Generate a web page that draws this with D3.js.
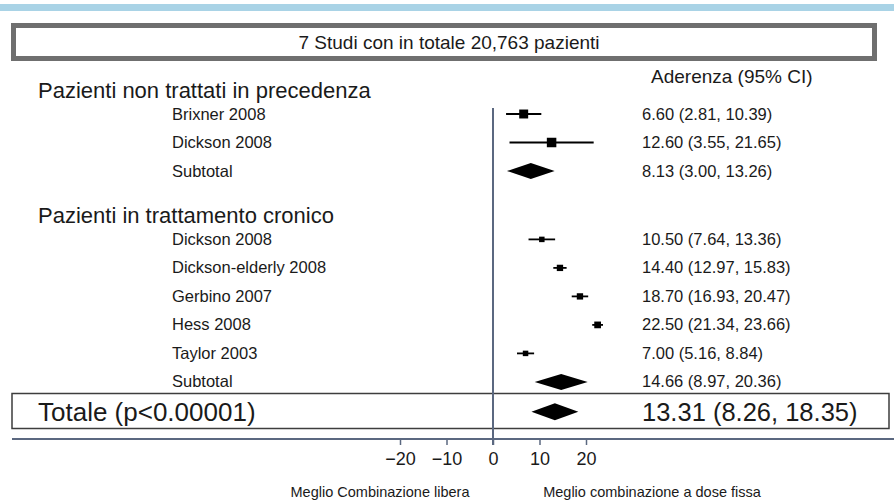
<!DOCTYPE html>
<html>
<head>
<meta charset="utf-8">
<script src="https://cdn.jsdelivr.net/npm/d3@7"></script>
<style>
  body { margin:0; background:#fff; }
  svg { display:block; font-family:"Liberation Sans", Arial, sans-serif; }
</style>
</head>
<body>
<svg id="chart" width="894" height="503"></svg>
<script>
// data
var headerText = "7 Studi con in totale 20,763 pazienti";
var columnTitle = "Aderenza (95% CI)";
var groupTitles = ["Pazienti non trattati in precedenza", "Pazienti in trattamento cronico"];
var studyNames = [["Brixner 2008", "Dickson 2008"],
                  ["Dickson 2008", "Dickson-elderly 2008", "Gerbino 2007", "Hess 2008", "Taylor 2003"]];
var studyEst = [[6.60, 12.60], [10.50, 14.40, 18.70, 22.50, 7.00]];
var studyLo  = [[2.81, 3.55],  [7.64, 12.97, 16.93, 21.34, 5.16]];
var studyHi  = [[10.39, 21.65],[13.36, 15.83, 20.47, 23.66, 8.84]];
var studyWeight = [[16, 18], [6, 8, 8, 9, 6]];
var subEst = [8.13, 14.66];
var subLo  = [3.00, 8.97];
var subHi  = [13.26, 20.36];
var totalLabel = "Totale (p<0.00001)";
var totalEst = 13.31, totalLo = 8.26, totalHi = 18.35;
var xTicks = [-20, -10, 0, 10, 20];
var sideLabels = ["Meglio Combinazione libera", "Meglio combinazione a dose fissa"];

var svg = d3.select('#chart');
var ink = '#1a1a1a', slate = '#5b6880';

var x = d3.scaleLinear().domain([0, 20]).range([493, 586]);
var y = d3.scaleLinear().domain([0, 1]).range([114, 142.5]);
var boxSize = d3.scaleSqrt().domain([0, 18]).range([0, 9.5]);

function fmt(e, l, h){ return e.toFixed(2) + ' (' + l.toFixed(2) + ', ' + h.toFixed(2) + ')'; }

// build the rows (slot = row position)
var rows = [];
var slot = 0;
groupTitles.forEach(function(t, g){
  rows.push({kind:'title', text:t, slot: slot - 0.85});
  studyNames[g].forEach(function(n, i){
    rows.push({kind:'study', text:n, slot:slot, est:studyEst[g][i], lo:studyLo[g][i], hi:studyHi[g][i], w:studyWeight[g][i]});
    slot += 1;
  })
  rows.push({kind:'sub', text:'Subtotal', slot:slot, est:subEst[g], lo:subLo[g], hi:subHi[g]});
  slot += 2.4;
})
var totalSlot = slot - 2.4 + 1.05;

// top band
svg.append('rect').attr('x',0).attr('y',4).attr('width',894).attr('height',7).attr('fill','#a9d3e6');

// header box
svg.append('rect').attr('x',13.5).attr('y',25.5).attr('width',861).attr('height',33)
  .attr('fill','#fff').attr('stroke','#6f6f6f').attr('stroke-width',5);
svg.append('text').attr('x',449).attr('y',49).attr('text-anchor','middle')
  .attr('font-size',19).attr('fill',ink).text(headerText);

svg.append('text').attr('x',651).attr('y',83).attr('font-size',19).attr('fill',ink).text(columnTitle);

// totale box
svg.append('rect').attr('x',12).attr('y',393.5).attr('width',877).attr('height',35)
  .attr('fill','none').attr('stroke','#3d3d3d').attr('stroke-width',1.5);

// vertical zero line + axis
svg.append('line').attr('x1',x(0)).attr('x2',x(0)).attr('y1',108).attr('y2',445)
  .attr('stroke',slate).attr('stroke-width',2);
var axis = d3.axisBottom(x).tickValues(xTicks).tickSize(6).tickPadding(7)
  .tickFormat(function(d){ return d < 0 ? '\u2212' + Math.abs(d) : d; });
var ax = svg.append('g').attr('transform','translate(0,439)').call(axis);
ax.select('.domain').remove();
ax.selectAll('.tick line').attr('stroke',slate).attr('stroke-width',1.5);
ax.selectAll('.tick text').attr('font-size',18).attr('fill',ink).attr('font-family','Liberation Sans, Arial, sans-serif');
svg.append('line').attr('x1',12).attr('x2',894).attr('y1',439).attr('y2',439)
  .attr('stroke',slate).attr('stroke-width',2);

// row labels
rows.forEach(function(r){
  if(r.kind === 'title'){
    svg.append('text').attr('x',38).attr('y',y(r.slot)+8).attr('font-size',22).attr('fill',ink).text(r.text);
    return;
  }
  svg.append('text').attr('x',172).attr('y',y(r.slot)+5.5).attr('font-size',16.5).attr('fill',ink).text(r.text);
  svg.append('text').attr('x',642).attr('y',y(r.slot)+5.5).attr('font-size',16.5).attr('fill',ink).text(fmt(r.est, r.lo, r.hi));
})

// studies: CI line + weighted square
var studies = rows.filter(function(r){ return r.kind === 'study'; });
svg.selectAll('line.ci').data(studies).enter().append('line').attr('class','ci')
  .attr('x1',function(d){ return x(d.lo); }).attr('x2',function(d){ return x(d.hi); })
  .attr('y1',function(d){ return y(d.slot); }).attr('y2',function(d){ return y(d.slot); })
  .attr('stroke','#000').attr('stroke-width',1.8);
svg.selectAll('rect.pt').data(studies).enter().append('rect').attr('class','pt')
  .attr('x',function(d){ return x(d.est) - boxSize(d.w)/2; })
  .attr('y',function(d){ return y(d.slot) - boxSize(d.w)/2; })
  .attr('width',function(d){ return boxSize(d.w); }).attr('height',function(d){ return boxSize(d.w); })
  .attr('fill','#000');

// diamonds
function diamond(e, l, h, cy, hh){
  return 'M' + x(l) + ',' + cy + 'L' + x(e) + ',' + (cy - hh) + 'L' + x(h) + ',' + cy + 'L' + x(e) + ',' + (cy + hh) + 'Z';
}
var subs = rows.filter(function(r){ return r.kind === 'sub'; });
svg.selectAll('path.sub').data(subs).enter().append('path').attr('class','sub')
  .attr('d',function(d){ return diamond(d.est, d.lo, d.hi, y(d.slot), 8); }).attr('fill','#000');

// totale
svg.append('path').attr('d',diamond(totalEst, totalLo, totalHi, y(totalSlot), 8.5)).attr('fill','#000');
svg.append('text').attr('x',38).attr('y',y(totalSlot)+9).attr('font-size',26).attr('fill',ink).text(totalLabel);
svg.append('text').attr('x',642).attr('y',y(totalSlot)+9).attr('font-size',25.5).attr('fill',ink).text(fmt(totalEst, totalLo, totalHi));

// bottom labels
svg.append('text').attr('x',380).attr('y',497).attr('text-anchor','middle').attr('font-size',14.5).attr('fill',ink).text(sideLabels[0]);
svg.append('text').attr('x',652).attr('y',497).attr('text-anchor','middle').attr('font-size',14.5).attr('fill',ink).text(sideLabels[1]);
</script>
</body>
</html>
